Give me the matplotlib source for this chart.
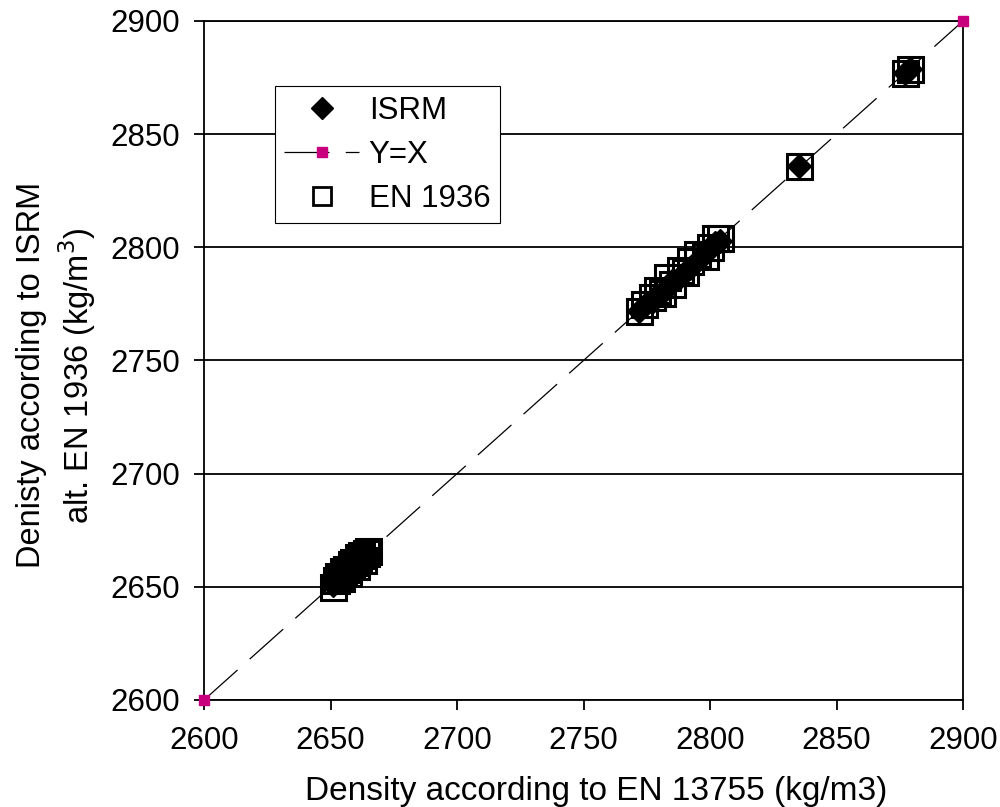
import numpy as np
import matplotlib.pyplot as plt

plt.rcParams['font.family'] = ['Liberation Sans', 'DejaVu Sans']

# density according to EN 13755 (x) and the two other methods (y)
en13755 = [2651, 2652, 2653, 2654, 2655, 2656, 2657, 2658, 2659, 2660, 2661, 2662, 2663, 2664, 2665,
           2772, 2774, 2777, 2779, 2781, 2783, 2785, 2788, 2790, 2792, 2795, 2798, 2800, 2802, 2804,
           2835, 2877, 2879]
isrm = [2651, 2653, 2653, 2655, 2655, 2657, 2657, 2659, 2659, 2661, 2661, 2663, 2663, 2664, 2665,
        2772, 2774, 2776, 2779, 2780, 2782, 2785, 2787, 2789, 2791, 2794, 2797, 2800, 2802, 2803,
        2836, 2877, 2879]
en1936 = [2650, 2653, 2655, 2654, 2657, 2658, 2656, 2660, 2661, 2659, 2663, 2664, 2662, 2665, 2666,
          2772, 2775, 2778, 2781, 2780, 2787, 2784, 2790, 2789, 2794, 2797, 2796, 2800, 2804, 2804,
          2836, 2877, 2879]
yx = [2600, 2900]

fig = plt.figure(figsize=(10, 8.07), dpi=100)
ax = fig.add_axes([0.204, 0.1326, 0.759, 0.8414])

ax.plot(en13755, isrm, linestyle='none', marker='D', markersize=12.5, color='black',
        label='ISRM', zorder=3)
ax.plot(yx, yx, color='black', linewidth=0.9, dashes=(36, 13), marker='s', markersize=7,
        markerfacecolor='#C8007E', markeredgecolor='#C8007E', label='Y=X',
        zorder=4, clip_on=False)
ax.plot(en13755, en1936, linestyle='none', marker='s', markersize=18, markerfacecolor='none',
        markeredgecolor='black', markeredgewidth=2.2, label='EN 1936', zorder=5)

ax.set_xlim(2600, 2900)
ax.set_ylim(2600, 2900)
ax.set_xticks(np.arange(2600, 2901, 50))
ax.set_yticks(np.arange(2600, 2901, 50))
ax.yaxis.grid(True, color='black', linewidth=1.3)
ax.set_axisbelow(True)
ax.tick_params(labelsize=22.5, length=7, width=1.3, direction='out')
ax.tick_params(axis='x', pad=12)
ax.tick_params(axis='y', pad=10)
for s in ax.spines.values():
    s.set_linewidth(1.3)

ax.set_xlabel('Density according to EN 13755 (kg/m3)', fontsize=24)
ax.set_ylabel('Denisty according to ISRM\nalt. EN 1936 (kg/m$^3$)', fontsize=23.5,
              linespacing=1.3)
ax.xaxis.set_label_coords(0.517, -0.112)
ax.yaxis.set_label_coords(-0.139, 0.478)

leg = ax.legend(loc='upper left', bbox_to_anchor=(0.0935, 0.904), fontsize=22.5, frameon=True,
                fancybox=False, edgecolor='black', framealpha=1, handlelength=2.4,
                borderpad=0.3, labelspacing=0.45, handletextpad=0.3, borderaxespad=0)
leg.get_frame().set_linewidth(0.8)
hd = leg.legend_handles
hd[0].set_markersize(11)
hd[1].set_markersize(7)
hd[2].set_markersize(13)
hd[2].set_markeredgewidth(2)

fig.savefig('out.png', dpi=100)
